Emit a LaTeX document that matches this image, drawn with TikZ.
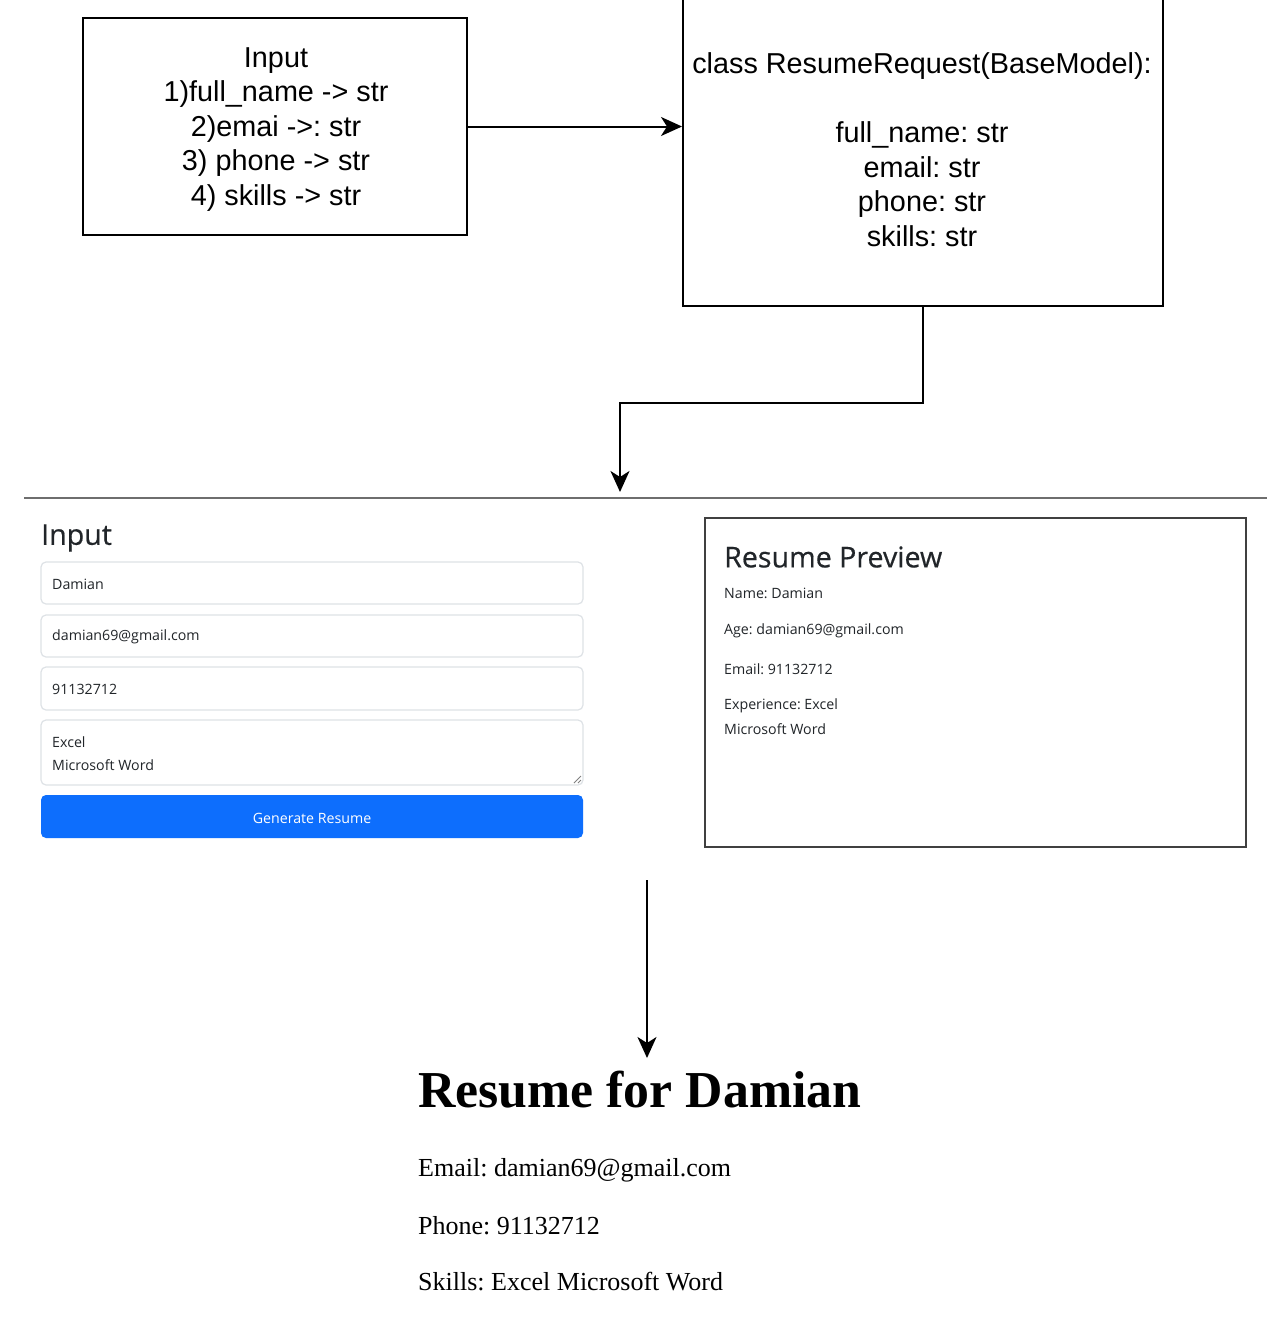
\documentclass[tikz,border=0pt]{standalone}
\usepackage{fontspec}
\setmainfont{Liberation Sans}
\newfontfamily\uifont{Open Sans}
\newfontfamily\uiheadfont[FakeBold=0.5]{Open Sans}
\newfontfamily\serifont{Liberation Serif}
\usetikzlibrary{arrows.meta}
\definecolor{uitext}{HTML}{212529}
\definecolor{fieldborder}{HTML}{DEE2E6}
\definecolor{btnblue}{HTML}{0D6EFD}
\definecolor{rulegray}{HTML}{6E6E6E}
\frenchspacing
\tikzset{
  flowbox/.style={draw=black, line width=2pt, inner sep=0pt},
  flowtxt/.style={inner sep=0pt, align=center, font=\fontsize{28.8}{34.5}\selectfont},
  conn/.style={line width=2pt, -{Stealth[length=21pt,width=19pt,inset=6pt]}},
  field/.style={draw=fieldborder, line width=1.2pt, rounded corners=5pt, fill=white},
  uitxt/.style={inner sep=0pt, anchor=west, text=uitext, font=\uifont\fontsize{14.2}{17}\selectfont},
  uihead/.style={inner sep=0pt, anchor=west, text=uitext, font=\uiheadfont\fontsize{28.6}{32}\selectfont},
  webtxt/.style={inner sep=0pt, anchor=west, font=\serifont\fontsize{26}{30}\selectfont},
}
\begin{document}
\begin{tikzpicture}[x=1pt,y=-1pt]
\useasboundingbox[fill=white] (0,0) rectangle (1273,1325);

% top flow
\node[flowbox, minimum width=384pt, minimum height=217pt] (inbox) at (275,126.5) {};
\node[flowtxt] (inboxtxt) at (276,129.5)
  {Input\\1)full\_name -> str\\2)emai ->: str\\3) phone -> str\\4) skills -> str};
\node[flowbox, minimum width=480pt, minimum height=310pt] (model) at (923,151) {};
\node[flowtxt] (modeltxt) at (922,149.5)
  {class ResumeRequest(BaseModel):\\[34.5pt]full\_name: str\\email: str\\phone: str\\skills: str};
\draw[conn] (inbox.east) -- (inbox.east -| model.west);
\coordinate (tip1) at (620,492);
\draw[conn] (model.south) -- ++(0,96) -| (tip1);

% separator
\coordinate (ruleL) at (24,498);
\coordinate (ruleR) at (1267,498);
\draw[rulegray, line width=1.6pt] (ruleL) -- (ruleR);

% input form
\node[uihead] (formhead) at (41,538) {Input};
\draw[field] (41,562) rectangle (583,604);
\node[uitxt] (f1) at (52,584) {Damian};
\draw[field] (41,615) rectangle (583,657);
\node[uitxt] (f2) at (52,637) {damian69@gmail.com};
\draw[field] (41,667) rectangle (583,710);
\node[uitxt] (f3) at (52,689) {91132712};
\draw[field] (41,720) rectangle (583,785);
\node[uitxt] (f4a) at (52,742) {Excel};
\node[uitxt] (f4b) at (52,765) {Microsoft Word};
\draw[gray, line width=0.8pt] (574,783) -- (581,776) (578,783) -- (581,780);
\fill[btnblue, rounded corners=5pt] (41,795) rectangle (583,838);
\node[inner sep=0pt, text=white, font=\uifont\fontsize{14.2}{17}\selectfont] (btn) at (312,818) {Generate Resume};

% preview
\draw[black!75, line width=1.3pt] (705,518) rectangle (1246,847);
\node[uihead] (prevhead) at (724,557) {Resume Preview};
\node[uitxt] (p1) at (724,593) {Name: Damian};
\node[uitxt] (p2) at (724,631) {Age: damian69@gmail.com};
\node[uitxt] (p3) at (724,669) {Email: 91132712};
\node[uitxt] (p4) at (724,706) {Experience: Excel};
\node[uitxt] (p5) at (724,729) {Microsoft Word};

% second arrow
\coordinate (a2s) at (647,880);
\coordinate (a2e) at (647,1058);
\draw[conn] (a2s) -- (a2e);

% result page
\node[inner sep=0pt, anchor=west, font=\serifont\bfseries\fontsize{51.8}{60}\selectfont] (title) at (418,1090) {Resume for Damian};
\node[webtxt] (r1) at (418,1170) {Email: damian69@gmail.com};
\node[webtxt] (r2) at (418,1226) {Phone: 91132712};
\node[webtxt] (r3) at (418,1282) {Skills: Excel Microsoft Word};
\end{tikzpicture}
\end{document}
